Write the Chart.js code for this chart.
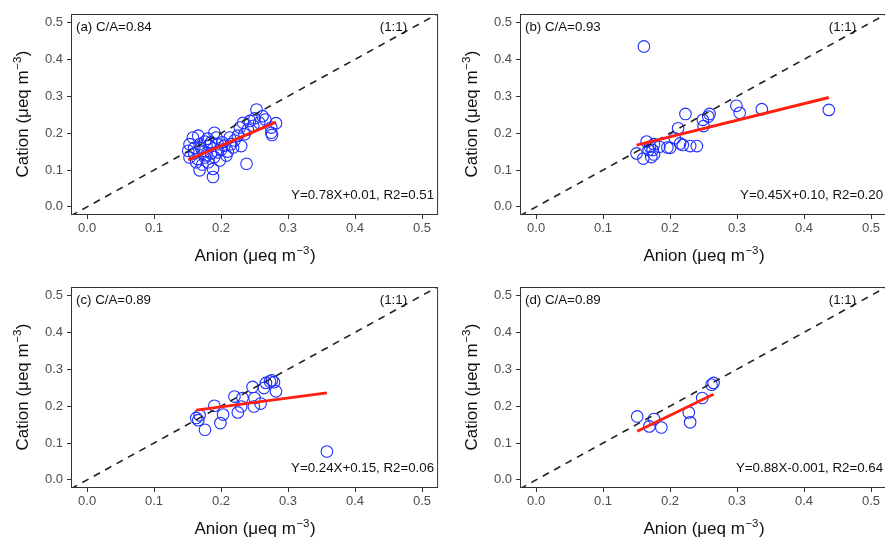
<!DOCTYPE html>
<html>
<head>
<meta charset="utf-8">
<script src="https://cdn.jsdelivr.net/npm/chart.js@4.4.1/dist/chart.umd.min.js"></script>
<style>
  html, body { margin: 0; padding: 0; background: #fff; overflow: hidden; }
  .panel { position: absolute; }
</style>
</head>
<body>
<div class="panel" style="left:0;top:0"><canvas id="pa" width="445" height="273"></canvas></div>
<div class="panel" style="left:449px;top:0"><canvas id="pb" width="445" height="273"></canvas></div>
<div class="panel" style="left:0;top:273px"><canvas id="pc" width="445" height="273"></canvas></div>
<div class="panel" style="left:449px;top:273px"><canvas id="pd" width="445" height="273"></canvas></div>
<script>
// axis setup shared by all four panels
const axisTicks = [0, 0.1, 0.2, 0.3, 0.4, 0.5];
const xMin = -0.024, xMax = 0.524;
const yMin = -0.022, yMax = 0.523;

const panelLabels = ["(a) C/A=0.84", "(b) C/A=0.93", "(c) C/A=0.89", "(d) C/A=0.89"];
const fitSlopes = [0.78, 0.45, 0.24, 0.88];
const fitIntercepts = [0.01, 0.10, 0.15, -0.001];
const fitTexts = [
  "Y=0.78X+0.01, R2=0.51",
  "Y=0.45X+0.10, R2=0.20",
  "Y=0.24X+0.15, R2=0.06",
  "Y=0.88X-0.001, R2=0.64"
];

// (a)
const anionA = [0.253, 0.262, 0.282, 0.275, 0.276, 0.275, 0.257, 0.243, 0.233, 0.228, 0.235, 0.225, 0.238, 0.248,
  0.266, 0.250, 0.213, 0.205, 0.193, 0.190, 0.183, 0.195, 0.188, 0.188, 0.168, 0.158, 0.166, 0.153, 0.151, 0.153,
  0.163, 0.173, 0.176, 0.181, 0.198, 0.208, 0.218, 0.220, 0.168, 0.176, 0.160, 0.170, 0.185, 0.200, 0.210, 0.195,
  0.180, 0.165, 0.172, 0.178, 0.190, 0.202, 0.215, 0.230, 0.240, 0.160, 0.185];
const cationA = [0.264, 0.246, 0.227, 0.201, 0.195, 0.215, 0.228, 0.233, 0.228, 0.215, 0.197, 0.193, 0.117, 0.220,
  0.237, 0.240, 0.188, 0.166, 0.188, 0.201, 0.166, 0.148, 0.103, 0.081, 0.099, 0.188, 0.193, 0.170, 0.152, 0.134,
  0.121, 0.152, 0.134, 0.121, 0.126, 0.139, 0.161, 0.180, 0.170, 0.177, 0.145, 0.160, 0.145, 0.155, 0.150, 0.170,
  0.185, 0.130, 0.115, 0.140, 0.135, 0.175, 0.170, 0.165, 0.210, 0.160, 0.175];

// (b)
const anionB = [0.161, 0.437, 0.337, 0.299, 0.304, 0.259, 0.257, 0.249, 0.250, 0.223, 0.212, 0.207, 0.219, 0.230,
  0.240, 0.196, 0.200, 0.165, 0.150, 0.160, 0.172, 0.174, 0.176, 0.168, 0.184, 0.170, 0.215, 0.176];
const cationB = [0.435, 0.263, 0.265, 0.274, 0.255, 0.252, 0.245, 0.236, 0.219, 0.252, 0.213, 0.186, 0.168, 0.165,
  0.165, 0.161, 0.160, 0.177, 0.145, 0.131, 0.135, 0.154, 0.170, 0.154, 0.163, 0.163, 0.172, 0.142];

// (c)
const anionC = [0.358, 0.163, 0.168, 0.176, 0.190, 0.199, 0.203, 0.220, 0.232, 0.225, 0.230, 0.247, 0.250, 0.249,
  0.259, 0.264, 0.267, 0.273, 0.279, 0.282, 0.276, 0.166];
const cationC = [0.077, 0.168, 0.175, 0.136, 0.201, 0.154, 0.177, 0.226, 0.222, 0.183, 0.199, 0.252, 0.222, 0.199,
  0.207, 0.249, 0.263, 0.267, 0.265, 0.240, 0.270, 0.162];

// (d)
const anionD = [0.151, 0.169, 0.176, 0.187, 0.228, 0.230, 0.248, 0.262, 0.265];
const cationD = [0.172, 0.145, 0.165, 0.142, 0.183, 0.156, 0.222, 0.258, 0.263];

const FONT = "'Liberation Sans', Arial, Helvetica, sans-serif";

const drawUnitTitle = (ctx, word, cx, cy, rotated) => {
  const main = word + " (\u03bceq m";
  const sup = "\u22123";
  ctx.save();
  ctx.translate(cx, cy);
  if (rotated) ctx.rotate(-Math.PI / 2);
  ctx.fillStyle = "#111";
  ctx.textBaseline = "alphabetic";
  ctx.font = "17px " + FONT;
  const w1 = ctx.measureText(main).width;
  const w3 = ctx.measureText(")").width;
  ctx.font = "11.5px " + FONT;
  const w2 = ctx.measureText(sup).width;
  const start = -(w1 + w2 + w3) / 2;
  ctx.font = "17px " + FONT;
  ctx.fillText(main, start, 0);
  ctx.fillText(")", start + w1 + w2 + 1, 0);
  ctx.font = "11.5px " + FONT;
  ctx.fillText(sup, start + w1 + 0.5, -7);
  ctx.restore();
};

const decor = {
  id: "decor",
  afterDraw(chart) {
    const { ctx, chartArea: a } = chart;
    const i = chart.options.plugins.decor.index;
    ctx.save();
    ctx.strokeStyle = "#333";
    ctx.lineWidth = 1;
    ctx.strokeRect(a.left + 0.5, a.top + 0.5, a.right - a.left - 1, a.bottom - a.top - 1);
    ctx.fillStyle = "#111";
    ctx.font = "13.3px " + FONT;
    ctx.textBaseline = "middle";
    ctx.textAlign = "left";
    ctx.fillText(panelLabels[i], a.left + 5, a.top + 13);
    ctx.textAlign = "right";
    ctx.fillText("(1:1)", a.right - 31, a.top + 13);
    ctx.fillText(fitTexts[i], a.right - 4, a.bottom - 20);
    ctx.restore();
    drawUnitTitle(ctx, "Anion", (a.left + a.right) / 2, a.bottom + 46, false);
    drawUnitTitle(ctx, "Cation", a.left - 43, (a.top + a.bottom) / 2, true);
  }
};

const makePanel = (id, index, xs, ys) => {
  const points = xs.map((x, k) => ({ x: x, y: ys[k] }));
  const lo = Math.min(...xs);
  const hi = Math.max(...xs);
  const fit = [lo, hi].map((x) => ({ x: x, y: fitSlopes[index] * x + fitIntercepts[index] }));
  const oneToOne = [xMin, xMax].map((v) => ({ x: v, y: v }));
  const axis = (min, max) => ({
    type: "linear",
    min: min,
    max: max,
    afterBuildTicks: (scale) => {
      scale.ticks = axisTicks.map((v) => ({ value: v }));
    },
    border: { display: false },
    grid: { drawOnChartArea: false, drawTicks: true, tickLength: 4, color: "#333", lineWidth: 1 },
    ticks: {
      color: "#4d4d4d",
      font: { family: FONT, size: 13 },
      padding: 4,
      callback: (v) => Number(v).toFixed(1),
    },
  });
  const xAxis = axis(xMin, xMax);
  xAxis.afterFit = (scale) => {
    scale.height = 58;
  };
  xAxis.ticks.padding = 2;
  xAxis.ticks.maxRotation = 0;
  const yAxis = axis(yMin, yMax);
  yAxis.afterFit = (scale) => { scale.width = 71; };

  return new Chart(document.getElementById(id), {
    type: "scatter",
    data: {
      datasets: [
        {
          data: fit,
          showLine: true,
          borderColor: "#ff2010",
          borderWidth: 3,
          pointRadius: 0,
        },
        {
          data: oneToOne,
          showLine: true,
          borderColor: "#222",
          borderWidth: 1.6,
          borderDash: [7, 6],
          pointRadius: 0,
        },
        {
          data: points,
          pointRadius: 5.8,
          pointBorderWidth: 1.1,
          pointBorderColor: "#1f2fff",
          pointBackgroundColor: "rgba(0,0,0,0)",
        },
      ],
    },
    options: {
      responsive: false,
      animation: false,
      layout: { padding: { top: 14, right: 0.5, bottom: 0, left: 0 } },
      plugins: {
        legend: { display: false },
        tooltip: { enabled: false },
        decor: { index: index },
      },
      scales: { x: xAxis, y: yAxis },
    },
    plugins: [decor],
  });
};

makePanel("pa", 0, anionA, cationA);
makePanel("pb", 1, anionB, cationB);
makePanel("pc", 2, anionC, cationC);
makePanel("pd", 3, anionD, cationD);
</script>
</body>
</html>
